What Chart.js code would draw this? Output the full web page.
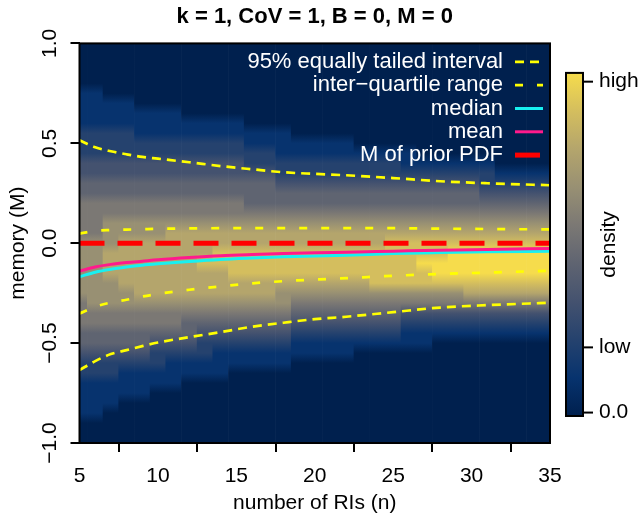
<!DOCTYPE html>
<html>
<head>
<meta charset="utf-8">
<script src="https://cdn.jsdelivr.net/npm/chart.js@4.4.0/dist/chart.umd.min.js"></script>
<style>
  html, body { margin: 0; padding: 0; background: #fff; }
  canvas { display: block; }
</style>
</head>
<body>
<canvas id="graphe" width="641" height="523"></canvas>
<script>
// summary curves of the posterior of M against n
const nValues = [5, 6, 7, 8, 9, 10, 12, 14, 16, 18, 20, 22, 25, 28, 31, 35];
const upper95  = [0.515, 0.48, 0.46, 0.445, 0.432, 0.423, 0.405, 0.386, 0.37, 0.355, 0.347, 0.34, 0.326, 0.31, 0.30, 0.29];
const upperIQR = [0.048, 0.062, 0.066, 0.068, 0.07, 0.072, 0.074, 0.075, 0.075, 0.075, 0.075, 0.075, 0.075, 0.073, 0.071, 0.069];
const medianM  = [-0.168, -0.145, -0.13, -0.119, -0.11, -0.103, -0.091, -0.081, -0.074, -0.068, -0.064, -0.06, -0.052, -0.047, -0.043, -0.04];
const meanM    = [-0.14, -0.119, -0.106, -0.097, -0.09, -0.083, -0.072, -0.063, -0.057, -0.052, -0.048, -0.045, -0.04, -0.035, -0.031, -0.027];
const lowerIQR = [-0.352, -0.318, -0.297, -0.283, -0.267, -0.254, -0.233, -0.216, -0.201, -0.19, -0.182, -0.175, -0.163, -0.154, -0.147, -0.138];
const lower95  = [-0.635, -0.59, -0.555, -0.535, -0.515, -0.497, -0.47, -0.445, -0.418, -0.398, -0.38, -0.368, -0.345, -0.322, -0.31, -0.298];
const priorM = 0;

// density heatmap: one column per n, rows from M = 1.0 down to -1.0 every 0.05
// each digit is a density level 0 (none) .. 9 (highest)
const heatN = [5, 6, 7, 8, 9, 10, 11, 12, 13, 14, 15, 16, 17, 18, 19, 20,
               21, 22, 23, 24, 25, 26, 27, 28, 29, 30, 31, 32, 33, 34, 35];
const heatLevels = Array.from({length: 41}, (_, k) => 1 - k * 0.05);
const heatDensity = [
  "00000111122233445555666666555443221111000",
  "00000111122233445555666666655443221111000",
  "00000011122233445566677766655443221110000",
  "00000011122233445566777776655443211100000",
  "00000001112233445566777777655443211100000",
  "00000001112233445566777777655432211000000",
  "00000001112233445567777777655432111000000",
  "00000000112233445567777777654432110000000",
  "00000000112233445567778777654322110000000",
  "00000000112233445567788777654321110000000",
  "00000000112233445567788877654321100000000",
  "00000000011223444567788877654321100000000",
  "00000000011223444567788877654321100000000",
  "00000000011122344567788876654321100000000",
  "00000000001122344567788876543211000000000",
  "00000000001122344567788876543211000000000",
  "00000000001122344567788876543211000000000",
  "00000000001122344567788876543211000000000",
  "00000000000122344567788876543210000000000",
  "00000000000122344567788886543210000000000",
  "00000000000122344567888886543210000000000",
  "00000000000112344567888886532110000000000",
  "00000000000012344567889886532110000000000",
  "00000000000012344567889986532100000000000",
  "00000000000012344567899986532100000000000",
  "00000000000012344567899987532100000000000",
  "00000000000012234567899987532100000000000",
  "00000000000001234567899987532100000000000",
  "00000000000001234567899987532100000000000",
  "00000000000001234567899987532100000000000",
  "00000000000001234567899987532100000000000"
];
const densityColors = ['#00204E', '#07336E', '#25426E', '#44526F', '#5F6471',
                       '#7B7874', '#989073', '#B4A56C', '#D4BE5E', '#F6DC4C'];

const xTicks = [5, 10, 15, 20, 25, 30, 35];
const yTicks = [-1, -0.5, 0, 0.5, 1];
const yTickLabels = ['\u22121.0', '\u22120.5', '0.0', '0.5', '1.0'];
const cbarLevels = [0.09, 1.8, 8.77];
const cbarLabels = ['0.0', 'low', 'high'];

const police = "'Liberation Sans', Arial, Helvetica, sans-serif";
Chart.defaults.font.family = police;
Chart.defaults.color = '#000';

const style95     = { borderColor: '#FFFF00', borderWidth: 2.7, borderDash: [9, 6] };
const styleIQR    = { borderColor: '#FFFF00', borderWidth: 2.7, borderDash: [8, 14] };
const styleMedian = { borderColor: '#18F0F0', borderWidth: 3, borderDash: [] };
const styleMean   = { borderColor: '#FF1A8C', borderWidth: 3, borderDash: [] };
const stylePrior  = { borderColor: '#FF0000', borderWidth: 5, borderDash: [25, 13] };

const legendEntries = [
  ['95% equally tailed interval', style95],
  ['inter\u2212quartile range', styleIQR],
  ['median', styleMedian],
  ['mean', styleMean],
  ['M of prior PDF', stylePrior]
];

const points = arr => nValues.map((n, i) => ({ x: n, y: arr[i] }));

function courbe(label, arr, style, order) {
  return Object.assign({
    type: 'line',
    label: label,
    data: points(arr),
    pointRadius: 0,
    fill: false,
    tension: 0.4,
    cubicInterpolationMode: 'monotone',
    borderCapStyle: 'butt',
    order: order
  }, style);
}

// vertical gradient of one heatmap column, stops placed through the y scale
function gradientColonne(ctx) {
  const chart = ctx.chart;
  const y = chart.scales.y;
  if (!y || ctx.type !== 'data' || !chart.chartArea) return densityColors[0];
  const col = heatDensity[ctx.dataIndex];
  const top = y.getPixelForValue(heatLevels[0]);
  const bottom = y.getPixelForValue(heatLevels[heatLevels.length - 1]);
  const g = chart.ctx.createLinearGradient(0, top, 0, bottom);
  for (let k = 0; k < heatLevels.length; k++) {
    const p = (y.getPixelForValue(heatLevels[k]) - top) / (bottom - top);
    g.addColorStop(Math.min(1, Math.max(0, p)), densityColors[+col[k] || 0]);
  }
  return g;
}

const cadreLegende = {
  id: 'cadreLegende',
  afterDatasetsDraw(chart) {
    const { ctx, chartArea: a } = chart;
    ctx.save();
    ctx.strokeStyle = '#000';
    ctx.lineWidth = 2;
    ctx.strokeRect(a.left, a.top, a.right - a.left, a.bottom - a.top);

    ctx.font = '22px ' + police;
    ctx.textAlign = 'right';
    ctx.textBaseline = 'middle';
    legendEntries.forEach(([txt, st], i) => {
      const y = a.top + 18.5 + i * 23.3;
      ctx.fillStyle = '#FFFFFF';
      ctx.fillText(txt, a.right - 47, y);
      ctx.strokeStyle = st.borderColor;
      ctx.lineWidth = st.borderWidth;
      ctx.setLineDash(st.borderDash);
      ctx.beginPath();
      ctx.moveTo(a.right - 35, y);
      ctx.lineTo(a.right - 7, y);
      ctx.stroke();
    });
    ctx.restore();
  },
  afterDraw(chart) {
    // colour key on the right
    const { ctx, chartArea: a } = chart;
    const x0 = a.right + 16, w = 17;
    const top = a.top + 29.5, bot = a.bottom - 27;
    const nMax = densityColors.length - 1;
    ctx.save();
    const g = ctx.createLinearGradient(0, bot, 0, top);
    densityColors.forEach((c, i) => g.addColorStop(i / nMax, c));
    ctx.fillStyle = g;
    ctx.fillRect(x0, top, w, bot - top);
    ctx.strokeStyle = '#000';
    ctx.lineWidth = 2;
    ctx.strokeRect(x0, top, w, bot - top);

    ctx.font = '21px ' + police;
    ctx.fillStyle = '#000';
    ctx.textAlign = 'left';
    ctx.textBaseline = 'middle';
    cbarLevels.forEach((lv, i) => {
      const y = bot - (lv / nMax) * (bot - top);
      ctx.beginPath();
      ctx.moveTo(x0 + w, y);
      ctx.lineTo(x0 + w + 10, y);
      ctx.stroke();
      ctx.fillText(cbarLabels[i], x0 + w + 16, y);
    });

    ctx.translate(x0 + 43, (top + bot) / 2);
    ctx.rotate(-Math.PI / 2);
    ctx.textAlign = 'center';
    ctx.fillText('density', 0, 0);
    ctx.restore();
  }
};

new Chart(document.getElementById('graphe'), {
  type: 'bar',
  data: {
    datasets: [
      {
        type: 'bar',
        label: 'density',
        data: heatN.map(n => ({ x: n, y: [heatLevels[heatLevels.length - 1], heatLevels[0]] })),
        backgroundColor: gradientColonne,
        borderWidth: 0,
        barPercentage: 1,
        categoryPercentage: 1,
        grouped: false,
        clip: 0,
        order: 10
      },
      courbe('95% equally tailed interval', upper95, style95, 6),
      courbe('95% equally tailed interval', lower95, style95, 6),
      courbe('inter-quartile range', upperIQR, styleIQR, 5),
      courbe('inter-quartile range', lowerIQR, styleIQR, 5),
      Object.assign({
        type: 'line',
        label: 'M of prior PDF',
        data: [{ x: nValues[0], y: priorM }, { x: nValues[nValues.length - 1], y: priorM }],
        pointRadius: 0,
        fill: false,
        borderCapStyle: 'butt',
        order: 4
      }, stylePrior),
      courbe('median', medianM, styleMedian, 3),
      courbe('mean', meanM, styleMean, 2)
    ]
  },
  options: {
    responsive: false,
    animation: false,
    devicePixelRatio: 1,
    layout: { padding: { left: 0, right: 91, top: 0, bottom: 0 } },
    plugins: {
      legend: { display: false },
      tooltip: { enabled: false },
      title: {
        display: true,
        text: 'k = 1, CoV = 1, B = 0, M = 0',
        color: '#000',
        font: { size: 22, weight: 'bold' },
        padding: { top: 4, bottom: 13 },
        fullSize: false
      }
    },
    scales: {
      x: {
        type: 'linear',
        min: 5,
        max: 35,
        offset: false,
        afterBuildTicks: s => { s.ticks = xTicks.map(v => ({ value: v })); },
        ticks: { font: { size: 21 }, color: '#000', padding: 12, maxRotation: 0, autoSkip: false },
        grid: { drawOnChartArea: false, drawTicks: true, tickLength: 9, color: '#000', lineWidth: 2 },
        border: { display: false },
        title: { display: true, text: 'number of RIs (n)', color: '#000', font: { size: 21 }, padding: { top: 0, bottom: 7 } },
        afterFit: s => { s.height = 80; }
      },
      y: {
        type: 'linear',
        min: -1,
        max: 1,
        afterBuildTicks: s => { s.ticks = yTicks.map(v => ({ value: v })); },
        ticks: {
          callback: (v, i) => yTickLabels[i],
          font: { size: 21 },
          color: '#000',
          minRotation: 90,
          maxRotation: 90,
          crossAlign: 'center',
          padding: 0,
          autoSkip: false
        },
        grid: { drawOnChartArea: false, drawTicks: true, tickLength: 9, color: '#000', lineWidth: 2 },
        border: { display: false },
        title: { display: true, text: 'memory (M)', color: '#000', font: { size: 21 }, padding: { top: 6 } },
        afterFit: s => { s.width = 79.5; }
      }
    }
  },
  plugins: [cadreLegende]
});
</script>
</body>
</html>
